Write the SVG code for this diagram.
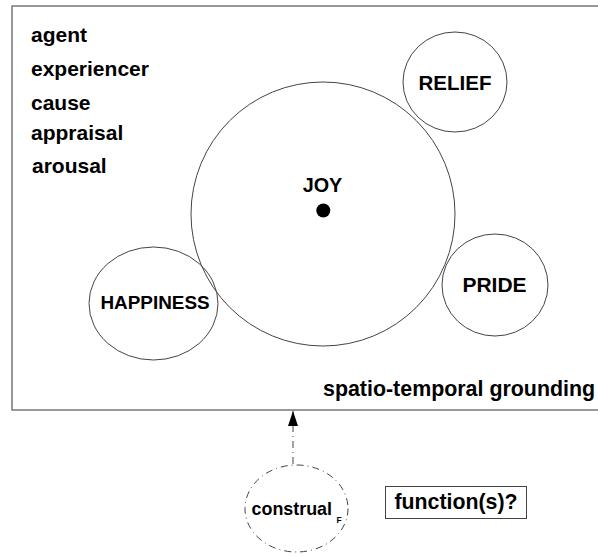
<svg xmlns="http://www.w3.org/2000/svg" width="598" height="557" viewBox="0 0 598 557">
  <style>
    .lbl { font-family: "Liberation Sans", Arial, sans-serif; font-weight: bold; fill: #000; }
    .ring { fill: none; stroke: #444; stroke-width: 1; }
    .frame { fill: none; stroke: #777; stroke-width: 1.5; }
    .dashdot { fill: none; stroke: #444; stroke-width: 1; stroke-dasharray: 7 4 1 4; }
  </style>
  <defs>
    <marker id="arrowhead" viewBox="0 0 15 10" refX="15" refY="5" markerWidth="15" markerHeight="10" markerUnits="userSpaceOnUse" orient="auto">
      <path d="M0,0 L15,5 L0,10 Z" fill="#000"/>
    </marker>
  </defs>
  <rect width="598" height="557" fill="#fff"/>

  <!-- frame of the emotion domain -->
  <g id="domain">
    <rect class="frame" x="12" y="6" width="600" height="404"/>
    <text class="lbl" x="323" y="396" font-size="21.4">spatio-temporal grounding</text>
  </g>

  <!-- frame element list -->
  <g id="roles" class="lbl" font-size="21">
    <text x="31" y="42">agent</text>
    <text x="31" y="76">experiencer</text>
    <text x="31" y="110">cause</text>
    <text x="31" y="140">appraisal</text>
    <text x="32" y="173">arousal</text>
  </g>

  <g id="joy">
    <circle class="ring" cx="323" cy="214" r="132"/>
    <text class="lbl" x="322.5" y="192" font-size="19.8" text-anchor="middle">JOY</text>
    <circle cx="323.3" cy="210.5" r="7" fill="#000"/>
  </g>

  <g id="relief">
    <ellipse class="ring" cx="455" cy="82" rx="52" ry="50"/>
    <text class="lbl" x="455" y="90" font-size="20.5" text-anchor="middle">RELIEF</text>
  </g>

  <g id="pride">
    <ellipse class="ring" cx="495" cy="285" rx="53" ry="51"/>
    <text class="lbl" x="494.5" y="291.5" font-size="21" text-anchor="middle">PRIDE</text>
  </g>

  <g id="happiness">
    <ellipse class="ring" cx="153.5" cy="303.5" rx="64.5" ry="56.5"/>
    <text class="lbl" x="155" y="308.5" font-size="18.9" text-anchor="middle">HAPPINESS</text>
  </g>

  <g id="construal">
    <ellipse class="dashdot" cx="296.5" cy="508.5" rx="51.5" ry="43.5"/>
    <text class="lbl" x="251.5" y="515" font-size="17.9">construal</text>
    <text class="lbl" x="336.5" y="523" font-size="8.5">F</text>
  </g>

  <g id="functions">
    <rect x="385.5" y="486.5" width="141" height="32" fill="none" stroke="#444" stroke-width="1"/>
    <text class="lbl" x="394.5" y="509" font-size="21.3">function(s)?</text>
  </g>

  <!-- construal feeds into the domain -->
  <g id="connectors">
    <line class="dashdot" x1="293" y1="464" x2="293" y2="411" marker-end="url(#arrowhead)"/>
  </g>
</svg>
